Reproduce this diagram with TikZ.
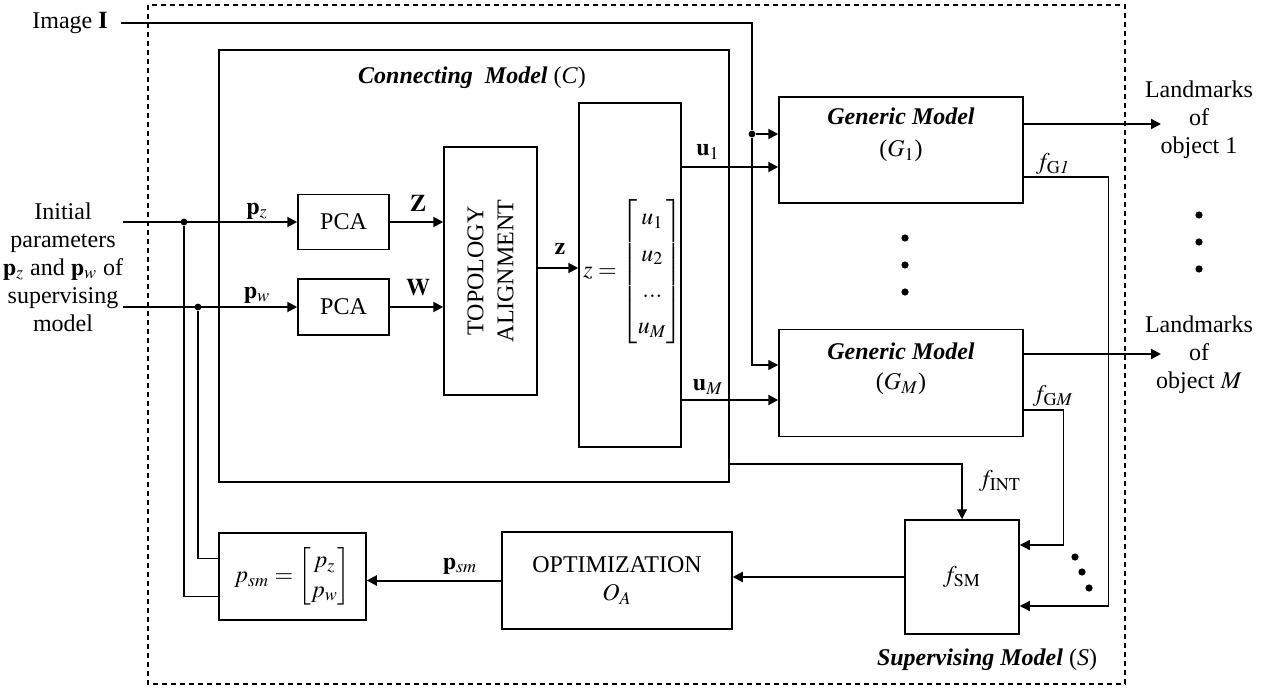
\documentclass[tikz,border=0pt]{standalone}
\usepackage{amsmath}
\usepackage{mathptmx}
\usepackage{fontspec}
\setmainfont{Liberation Serif}
\usetikzlibrary{positioning,calc,arrows.meta}
\tikzset{
  sig arrow/.style={
    -{Triangle[length=5pt, width=5pt]},
    line width=1pt,
  },
  thin arrow/.style={sig arrow, line width=0.65pt},
  plain line/.style={line width=0.65pt},
  block box/.style={
    rectangle, draw, line width=0.75pt,
    inner sep=0pt, align=center,
  },
  outer frame/.style={draw, line width=0.6pt, dash pattern=on 2.5pt off 2pt},
  junction dot/.style={circle, fill, inner sep=0pt, minimum size=3.4pt},
  ellipsis dot/.style={circle, fill, inner sep=0pt, minimum size=3.6pt},
}

\begin{document}
\begin{tikzpicture}[x=0.5pt, y=-0.5pt, font=\fontsize{12}{14}\selectfont]
\useasboundingbox (0,0) rectangle (1274,689);

% --- PARAMETERS ---
\def\busX{752}      % vertical line carrying the image
\def\outX{1161}     % tips of the landmark arrows

% --- SUPERVISING MODEL FRAME ---
\draw[outer frame] (148,5) rectangle (1125,684);
\node (suplabel) at (987,660)
  {\textbf{\textit{Supervising Model}} (\textit{S})};

% --- CONNECTING MODEL ---
\node[block box, minimum width=255pt, minimum height=216pt] (conn) at (474,266) {};
\node (connlabel) at (472,78) {\textbf{\textit{Connecting\ \ Model}} (\textit{C})};

\node[block box, minimum width=45.5pt, minimum height=27.5pt] (pcaZ) at (343.5,222) {PCA};
\node[block box, minimum width=45.5pt, minimum height=28pt] (pcaW) at (343.5,307) {PCA};
\node[block box, minimum width=46.5pt, minimum height=124pt] (topo) at (490.5,271) {};
\node[rotate=90, align=center] (topotext) at (topo) {TOPOLOGY\\[1pt]ALIGNMENT};
\node[block box, minimum width=51pt, minimum height=172pt] (zvec) at (630,275) {};
\node[inner sep=1pt] (zmat) at (633,272)
  {\renewcommand{\arraystretch}{1.3}$z=\begin{bmatrix}u_1\\u_2\\...\\u_M\end{bmatrix}$};

% --- GENERIC MODELS ---
\node[block box, minimum width=122pt, minimum height=53pt] (gen1) at (901,150) {};
\node[align=center] (gen1text) at (901,135)
  {\textbf{\textit{Generic Model}}\\[2pt]($G_1$)};
\node[block box, minimum width=122pt, minimum height=53.5pt] (genM) at (901,383) {};
\node[align=center] (genMtext) at (901,369)
  {\textbf{\textit{Generic Model}}\\[1pt]($G_M$)};
\foreach \dy in {238,265,292}
  \node[ellipsis dot] (gdot\dy) at (905,\dy) {};

% --- SUPERVISING BLOCKS ---
\node[block box, minimum size=57pt] (fsm) at (962,577) {$f_{\mathrm{SM}}$};
\node[block box, minimum width=115pt, minimum height=48.5pt] (opt) at (617,580.5)
  {OPTIMIZATION\\$O_A$};
\node[block box, minimum width=73.5pt, minimum height=43.5pt] (psm) at (292.5,576.5)
  {\renewcommand{\arraystretch}{1.05}$p_{sm}=\begin{bmatrix}p_z\\p_w\end{bmatrix}$};

% --- INPUTS AND OUTPUTS ---
\node (img) at (70,23) {Image $\mathbf{I}$};
\node[align=center] (init) at (63,267)
  {Initial\\parameters\\$\mathbf{p}_z$ and $\mathbf{p}_w$ of\\supervising\\model};
\node[align=center] (lm1) at (1199,120) {Landmarks\\of\\object 1};
\node[align=center] (lmM) at (1199,355) {Landmarks\\of\\object $M$};
\foreach \dy in {215,242,269}
  \node[ellipsis dot] (ldot\dy) at (1199,\dy) {};

\coordinate (inZ) at (123,222);
\coordinate (inW) at (123,307);
\coordinate (out1) at (\outX,124);
\coordinate (outM) at (\outX,354);
\coordinate (imgG1) at ([yshift=8pt]gen1.west);
\coordinate (imgGM) at ([yshift=9pt]genM.west);
\coordinate (inU1) at ([yshift=-8.5pt]gen1.west);
\coordinate (inUM) at ([yshift=-8.5pt]genM.west);

\node[junction dot] (jZ) at (184,222) {};
\node[junction dot] (jW) at (198,307) {};
\node[junction dot] (jI) at (\busX,134) {};

% --- CONNECTORS ---
\draw[plain line, shorten <=3pt] (img.east) -| (jI);
\draw[sig arrow] (jI) -- (imgG1);
\draw[thin arrow] (jI) |- (imgGM);

\draw[sig arrow] (inZ) -- (pcaZ.west);
\draw[sig arrow] (inW) -- (pcaW.west);
\draw[sig arrow] (pcaZ.east) -- (pcaZ.east -| topo.west);
\draw[sig arrow] (pcaW.east) -- (pcaW.east -| topo.west);
\draw[sig arrow] (topo.east |- 0,268) -- (zvec.west |- 0,268);
\draw[sig arrow] (zvec.east |- inU1) -- (inU1);
\draw[sig arrow] (zvec.east |- inUM) -- (inUM);

\draw[sig arrow] (gen1.east |- out1) -- (out1);
\draw[sig arrow] (genM.east |- outM) -- (outM);

\draw[thin arrow] ([yshift=-13.5pt]gen1.east) -- ++(85,0) |- ([yshift=-14.5pt]fsm.east);
\draw[thin arrow] ([yshift=-13.5pt]genM.east) -- ++(40,0) |- ([yshift=16pt]fsm.east);
\draw[thin arrow] ([yshift=-99pt]conn.east) -| (fsm.north);
\foreach \px/\py in {1075/557, 1082/572, 1089/588}
  \node[ellipsis dot] (sdot\px) at (\px,\py) {};

\draw[sig arrow] (fsm.west) -- (fsm.west -| opt.east);
\draw[sig arrow] (opt.west) -- (opt.west -| psm.east);
\draw[plain line] (jZ) |- ([yshift=-10pt]psm.west);
\draw[plain line] (jW) |- ([yshift=9pt]psm.west);

% --- SIGNAL LABELS ---
\node (lblpz) at (257,211) {$\mathbf{p}_z$};
\node (lblpw) at (257,295) {$\mathbf{p}_w$};
\node (lblZ) at (418,203) {$\mathbf{Z}$};
\node (lblW) at (418,288) {$\mathbf{W}$};
\node (lblz) at (560,249) {$\mathbf{z}$};
\node (lblu1) at (708,152) {$\mathbf{u}_1$};
\node (lbluM) at (708,387) {$\mathbf{u}_M$};
\node (lblfG1) at (1053,164) {$f_{\mathrm{G}\mathit{1}}$};
\node (lblfGM) at (1053,396) {$f_{\mathrm{G}M}$};
\node (lblfINT) at (1000,481) {$f_{\mathrm{INT}}$};
\node (lblpsm) at (460,566) {$\mathbf{p}_{sm}$};

\end{tikzpicture}
\end{document}
